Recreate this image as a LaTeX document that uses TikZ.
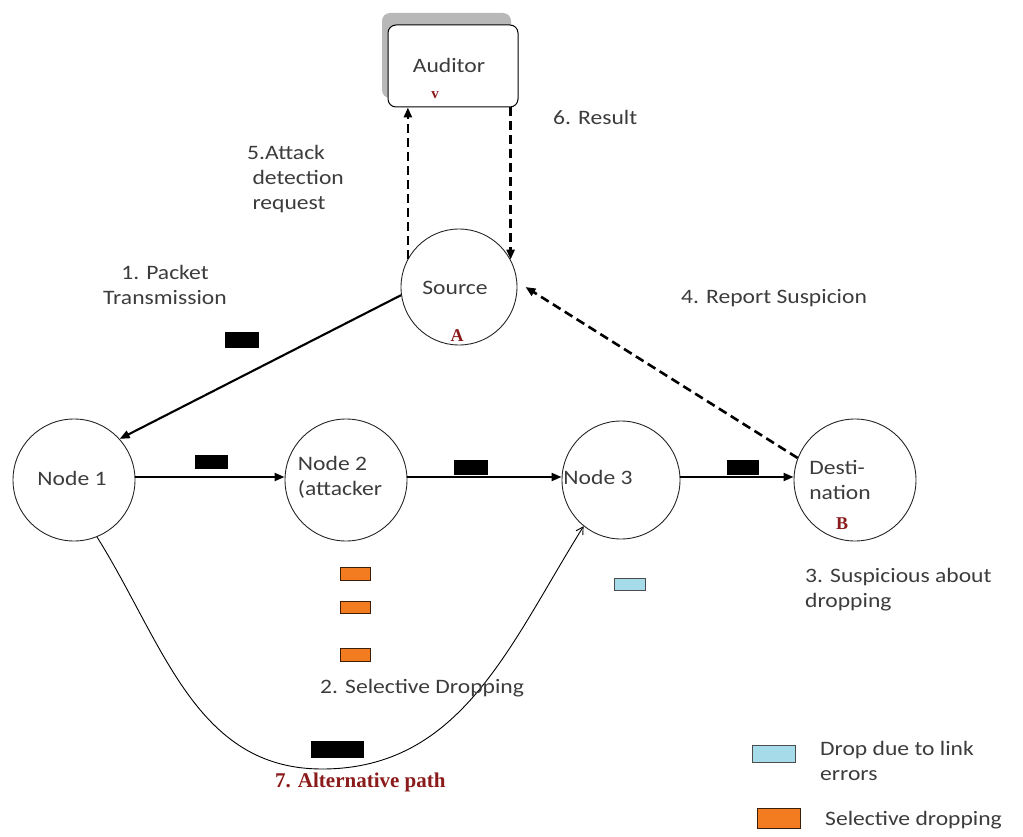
\documentclass[tikz,border=0pt]{standalone}
\usepackage{fontspec}
\setmainfont{Carlito}[FakeStretch=1.15]
\newfontfamily\redserif{Liberation Serif}
\usetikzlibrary{arrows.meta}
\definecolor{txtgray}{HTML}{3C3C3C}
\definecolor{dred}{HTML}{8B1A1A}
\definecolor{orng}{HTML}{F47C20}
\definecolor{lblue}{HTML}{A6DCEA}
\tikzset{
  circ/.style={circle,draw=black!85,line width=0.9pt,minimum size=#1,inner sep=0pt},
  txt/.style={text=txtgray,font=\fontsize{20.5}{25}\selectfont,inner sep=0pt},
  redl/.style={text=dred,font=\redserif\bfseries\fontsize{18}{20}\selectfont,inner sep=0pt},
  arr/.style={-{Triangle[length=10pt,width=8pt]},line width=2.1pt},
  darr/.style={-{Triangle[length=10pt,width=8pt]},line width=2.6pt,dash pattern=on 9pt off 5pt},
  pkt/.style={fill=black,draw=black},
  orbox/.style={fill=orng,draw=black!75!orng,line width=1pt},
  blbox/.style={fill=lblue,draw=black!70,line width=1pt}
}
\begin{document}
\begin{tikzpicture}[x=1pt,y=-1pt]
\useasboundingbox (0,0) rectangle (1023,837);
% Auditor with shadow
\fill[black!28,rounded corners=8pt] (382,13) rectangle (511,98);
\node[draw=black,fill=white,line width=1pt,rounded corners=8pt,minimum width=130pt,minimum height=82pt] (aud) at (453,66) {};
\node[txt] (audt) at (449,65) {Auditor};
\node[redl,font=\redserif\bfseries\fontsize{15}{18}\selectfont] (audv) at (435,95) {v};
% Source
\node[circ=116pt] (src) at (459,287) {};
\node[txt] (srct) at (455,288) {Source};
\node[redl] (srca) at (457,336) {A};
% Nodes
\node[circ=122pt] (n1) at (74,480) {};
\node[txt] (n1t) at (72,478) {Node 1};
\node[circ=122pt] (n2) at (346,480) {};
\node[txt,align=left] (n2t) at (340,477) {Node 2\\(attacker};
\node[circ=118pt] (n3) at (621,480) {};
\node[txt] (n3t) at (598,477) {Node 3};
\node[circ=122pt] (dst) at (855,480) {};
\node[txt,align=left] (dstt) at (840,480) {Desti-\\nation};
\node[redl] (dstb) at (842,524) {B};
% auditor arrows
\draw[darr] (src.151.6) -- (src.151.6 |- aud.south);
\draw[darr] (src.28.4 |- aud.south) -- (src.28.4);
% main arrows
\draw[arr] (src.188) -- (n1.42);
\draw[arr] (n1.east) ++(0,-3) coordinate (a1) (a1) -- (a1 -| n2.west);
\draw[arr] (n2.east) ++(0,-3) coordinate (a2) (a2) -- (a2 -| n3.west);
\draw[arr] (n3.east) ++(0,-3) coordinate (a3) (a3) -- (a3 -| dst.west);
\draw[darr] (dst.159) -- ([xshift=8pt]src.east);
% alternative path
\coordinate (bot) at (322,769);
\draw[line width=0.9pt,-{Straight Barb[length=7pt,width=8pt]}] (n1.-68) to[out=-58,in=180] (bot) to[out=0,in=-122] (n3.231);
% packets
\draw[pkt] (225,332) rectangle (258,347);
\draw[pkt] (195,455) rectangle (227,468);
\draw[pkt] (454,460) rectangle (487,474);
\draw[pkt] (727,460) rectangle (758,474);
\draw[pkt] (311,741) rectangle (363,757);
\draw[orbox] (340,567) rectangle (370,580);
\draw[orbox] (340,601) rectangle (370,613);
\draw[orbox] (340,648) rectangle (370,661);
\draw[blbox] (614,578) rectangle (645,590);
% legend
\draw[blbox] (752,745) rectangle (795,762);
\draw[orbox] (757,808) rectangle (800,828);
% labels
\node[txt,anchor=west] (l6) at (553,117) {6. Result};
\node[txt,align=left,anchor=north west] (l5) at (247,145) {5.Attack\\\ detection\\\ request};
\node[txt,align=center] (l1) at (165,285) {1. Packet\\Transmission};
\node[txt,anchor=west] (l4) at (681,298) {4. Report Suspicion};
\node[txt,align=left,anchor=north west] (l3) at (805,568) {3. Suspicious about\\dropping};
\node[txt,anchor=west] (l2) at (320,688) {2. Selective Dropping};
\node[text=dred,font=\redserif\bfseries\fontsize{21}{24}\selectfont,inner sep=0pt,anchor=west] (l7) at (275,782) {7. Alternative path};
\node[txt,align=left,anchor=north west] (lg1) at (820,741) {Drop due to link\\errors};
\node[txt,anchor=west] (lg2) at (825,820) {Selective dropping};
\end{tikzpicture}
\end{document}
